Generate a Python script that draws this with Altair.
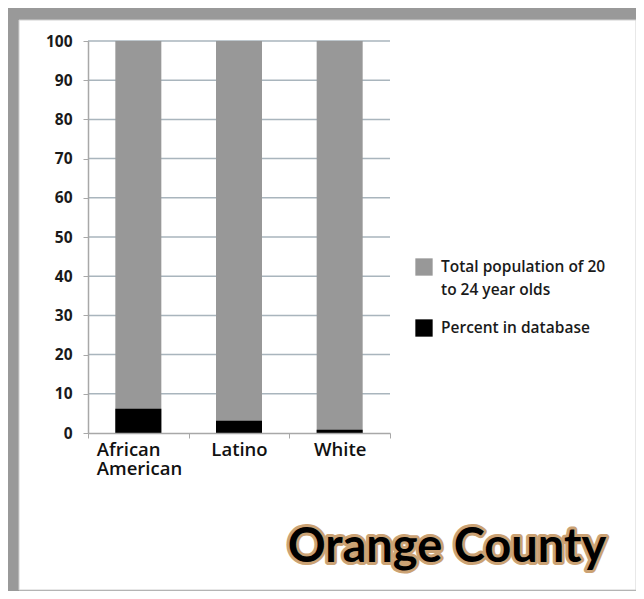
import altair as alt
import pandas as pd

categories = ["African American", "Latino", "White"]
total_population = [100, 100, 100]
percent_in_database = [6.2, 3.1, 0.8]
series_names = ["Total population of 20 to 24 year olds", "Percent in database"]
series_colors = ["#989898", "#000000"]
y_ticks = [0, 10, 20, 30, 40, 50, 60, 70, 80, 90, 100]
title_text = "Orange County"

rows = []
for c, t in zip(categories, total_population):
    rows.append({"group": c, "series": series_names[0], "value": t, "z": 0})
for c, p in zip(categories, percent_in_database):
    rows.append({"group": c, "series": series_names[1], "value": p, "z": 1})
df = pd.DataFrame(rows)

W, H = 302, 392
yscale = alt.Scale(domain=[0, 100], nice=False)
y_axis = alt.Axis(values=y_ticks, labelFont="Open Sans", labelFontWeight="bold",
                  labelFontSize=15.5, labelColor="#1a1a1a", labelPadding=11,
                  tickSize=5, tickColor="#a8a8a8", domainColor="#a8a8a8",
                  domainWidth=1.5, grid=False, zindex=1)

panel = alt.Chart(pd.DataFrame({"a": [1]})).mark_rect(fill="white", stroke="#d0d0d0", strokeWidth=1).encode(
    x=alt.value(-69), x2=alt.value(548), y=alt.value(-21), y2=alt.value(549)
)

grid = alt.Chart(pd.DataFrame({"v": y_ticks[1:]})).mark_rule(color="#a9b5bd", strokeWidth=1.5).encode(
    y=alt.Y("v:Q", scale=yscale, axis=y_axis, title=None), x=alt.value(0), x2=alt.value(W)
)

multi = "length(datum.label) > 10"
bars = alt.Chart(df).mark_bar(width=46).encode(
    x=alt.X("group:N", sort=categories, title=None,
            scale=alt.Scale(paddingInner=0, paddingOuter=0),
            axis=alt.Axis(labelAngle=0, labelExpr="split(datum.label, ' ')",
                          labelFont="Open Sans", labelFontSize=18.5, labelFontWeight=600,
                          labelColor="#111",
                          labelAlign={"condition": {"test": multi, "value": "left"}, "value": "center"},
                          labelOffset={"condition": {"test": multi, "value": -42}, "value": 0},
                          labelLineHeight=19, labelPadding=2, labelBaseline="top",
                          tickBand="extent", tickSize=5, tickColor="#a8a8a8",
                          domainColor="#a8a8a8", domainWidth=1.5, grid=False, zindex=1)),
    y=alt.Y("value:Q", stack=None, title=None, scale=yscale, axis=y_axis),
    color=alt.Color("series:N", scale=alt.Scale(domain=series_names, range=series_colors),
                    legend=alt.Legend(title=None, orient="none", legendX=327, legendY=217,
                                      symbolType="square", symbolSize=300, symbolStrokeWidth=0,
                                      symbolOpacity=1,
                                      labelFont="Open Sans", labelFontSize=15.5, labelFontWeight=600,
                                      labelColor="#1a1a1a",
                                      labelExpr="datum.label == 'Percent in database' ? datum.label : ['Total population of 20', 'to 24 year olds']",
                                      labelLimit=300, labelOffset=8, rowPadding=20)),
    order=alt.Order("z:Q"),
)

tdf = pd.DataFrame({"t": [title_text]})
title_outline = alt.Chart(tdf).mark_text(
    font="Lato", fontWeight="bold", fontSize=47, align="center", baseline="alphabetic",
    fill="#cba274", stroke="#cba274", strokeWidth=6, strokeJoin="round"
).encode(text="t:N", x=alt.value(359), y=alt.value(521))
title_fill = alt.Chart(tdf).mark_text(
    font="Lato", fontWeight="bold", fontSize=47, align="center", baseline="alphabetic",
    fill="#000000"
).encode(text="t:N", x=alt.value(359), y=alt.value(521))

chart = alt.layer(panel, grid, bars, title_outline, title_fill).properties(
    width=W, height=H,
    autosize=alt.AutoSizeParams(type="none"),
    padding={"left": 80, "top": 33, "right": 246, "bottom": 158},
    background="#999999",
).configure(style={"guide-label": {"lineHeight": 23}}).configure_view(stroke=None)

chart.save("out.html", embed_options={"renderer": "svg", "actions": False})
